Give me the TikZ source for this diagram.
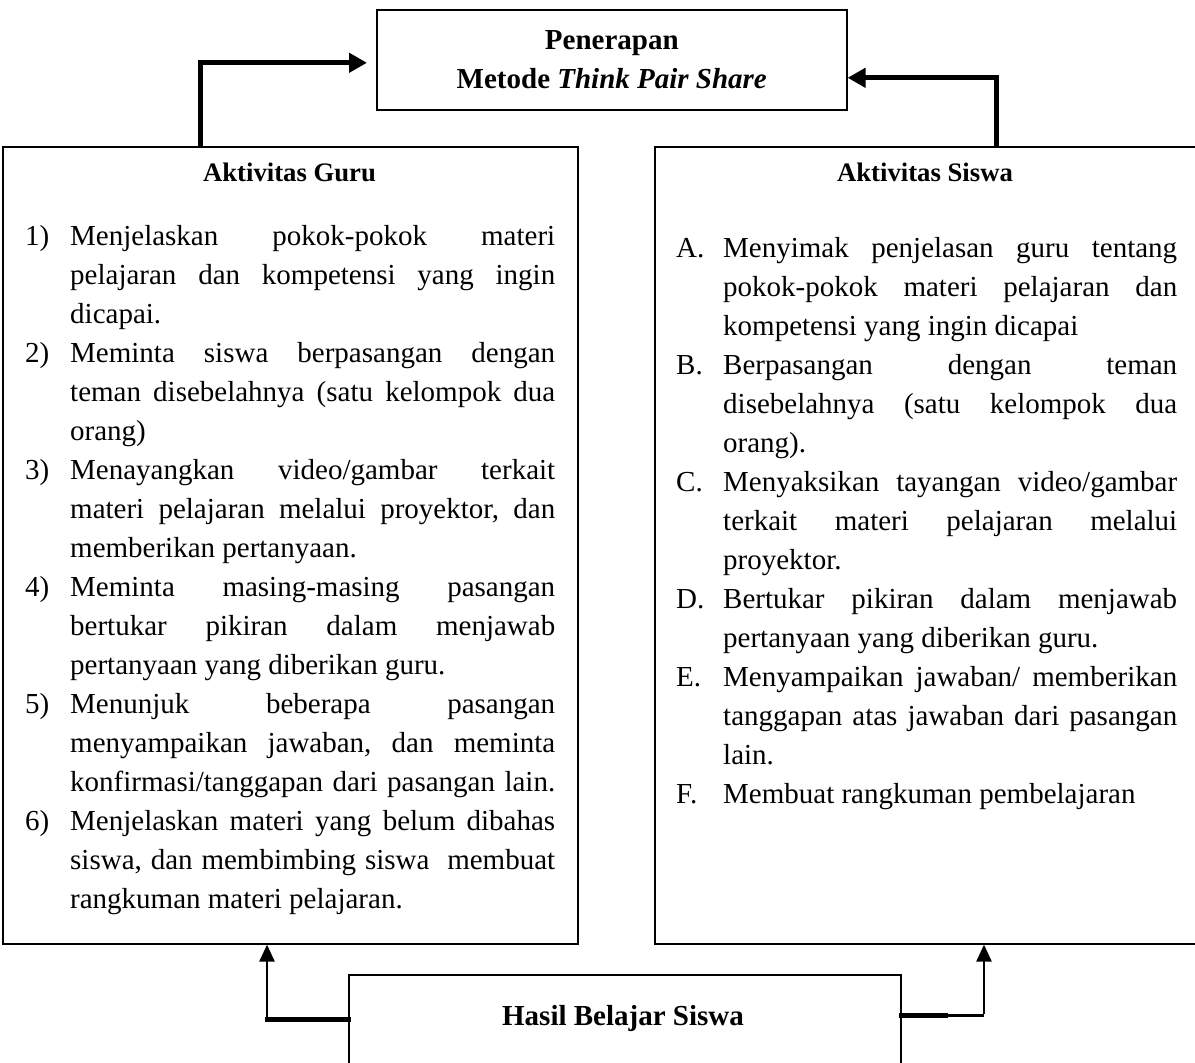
\documentclass[tikz,border=0pt]{standalone}
\usepackage{fontspec}
\setmainfont{Liberation Serif}
\usetikzlibrary{arrows.meta}
\newdimen\lablen
\newdimen\txtlen
\newcommand\justln[2]{\hbox{\hbox to\lablen{#1\hfil}\hbox to\txtlen{\spaceskip=0.25em plus 1fil\xspaceskip=0.25em plus 1fil\relax #2}}}
\newcommand\plainln[2]{\hbox{\hbox to\lablen{#1\hfil}\hbox to\txtlen{#2\hfil}}}
\tikzset{
  boxframe/.style={draw=black, line width=1.6pt, inner sep=0pt},
  bodytext/.style={inner sep=0pt, font=\fontsize{29}{39}\selectfont},
  titletext/.style={inner sep=0pt, font=\fontsize{29}{39}\selectfont\bfseries},
  sidetitle/.style={inner sep=0pt, font=\fontsize{26.7}{36}\selectfont\bfseries},
  thickconn/.style={line width=5pt, line cap=rect},
  thickarrow/.style={line width=5pt, -{Triangle[length=18pt,width=19pt]}},
  thinarrow/.style={line width=2.6pt, -{Triangle[length=17pt,width=15pt]}},
}
\begin{document}
\begin{tikzpicture}[x=1pt,y=-1pt]
\useasboundingbox (0,0) rectangle (1195,1063);
\fill[white] (0,0) rectangle (1195,1063);

% boxes
\node[boxframe, anchor=north west, minimum width=470pt, minimum height=100pt,
      align=center, font=\fontsize{29}{39}\selectfont\bfseries] (tpsbox) at (376,9)
  {Penerapan\\Metode \textit{Think Pair Share}};
\node[boxframe, anchor=north west, minimum width=575pt, minimum height=797pt] (guru) at (2,146) {};
\node[boxframe, anchor=north west, minimum width=560pt, minimum height=797pt] (siswa) at (654,146) {};
\node[boxframe, anchor=north west, minimum width=552pt, minimum height=130pt] (hasil) at (348,974) {};

% titles
\node[sidetitle, anchor=base] (gurutitle) at (289.5,181) {Aktivitas Guru};
\node[sidetitle, anchor=base] (siswatitle) at (925,181) {Aktivitas Siswa};
\node[titletext, anchor=base] (hasiltitle) at (623,1025) {Hasil Belajar Siswa};

% left list
\node[bodytext, anchor=base west] (gurulist) at (25,245) {\lablen=45pt \txtlen=485pt \frenchspacing
\vtop{\baselineskip=39pt \lineskiplimit=-100pt
\justln{1)}{Menjelaskan pokok-pokok materi}
\justln{}{pelajaran dan kompetensi yang ingin}
\plainln{}{dicapai.}
\justln{2)}{Meminta siswa berpasangan dengan}
\justln{}{teman disebelahnya (satu kelompok dua}
\plainln{}{orang)}
\justln{3)}{Menayangkan video/gambar terkait}
\justln{}{materi pelajaran melalui proyektor, dan}
\plainln{}{memberikan pertanyaan.}
\justln{4)}{Meminta masing-masing pasangan}
\justln{}{bertukar pikiran dalam menjawab}
\plainln{}{pertanyaan yang diberikan guru.}
\justln{5)}{Menunjuk beberapa pasangan}
\justln{}{menyampaikan jawaban, dan meminta}
\justln{}{konfirmasi/tanggapan dari pasangan lain.}
\justln{6)}{Menjelaskan materi yang belum dibahas}
\justln{}{siswa, dan membimbing siswa\ \ membuat}
\plainln{}{rangkuman materi pelajaran.}
}};

% right list
\node[bodytext, anchor=base west] (siswalist) at (676,257) {\lablen=47pt \txtlen=454pt \frenchspacing
\vtop{\baselineskip=39pt \lineskiplimit=-100pt
\justln{A.}{Menyimak penjelasan guru tentang}
\justln{}{pokok-pokok materi pelajaran dan}
\plainln{}{kompetensi yang ingin dicapai}
\justln{B.}{Berpasangan dengan teman}
\justln{}{disebelahnya (satu kelompok dua}
\plainln{}{orang).}
\justln{C.}{Menyaksikan tayangan video/gambar}
\justln{}{terkait materi pelajaran melalui}
\plainln{}{proyektor.}
\justln{D.}{Bertukar pikiran dalam menjawab}
\plainln{}{pertanyaan yang diberikan guru.}
\justln{E.}{Menyampaikan jawaban/ memberikan}
\justln{}{tanggapan atas jawaban dari pasangan}
\plainln{}{lain.}
\plainln{F.}{Membuat rangkuman pembelajaran}
}};

% connectors
\coordinate (gurutop) at (200,146);
\coordinate (siswatop) at (996,146);
\draw[thickarrow, shorten >=9pt] (gurutop) |- ([yshift=-3pt]tpsbox.west);
\draw[thickarrow, shorten >=0pt] (siswatop) |- ([yshift=-18pt]tpsbox.east);

\coordinate (blcorner) at (267,1019);
\coordinate (brjoin) at (945,1015);
\coordinate (brcorner) at (984,1015);
\draw[thinarrow] (blcorner) -- (blcorner |- guru.south);
\draw[thickconn] ([yshift=-45pt]hasil.north west) -- (blcorner);
\draw[thickconn] ([yshift=-41pt]hasil.north east) -- (brjoin);
\draw[line width=3pt] (brjoin) -- (brcorner);
\draw[thinarrow] ([yshift=1.5pt]brcorner) -- (brcorner |- siswa.south);
\end{tikzpicture}
\end{document}
